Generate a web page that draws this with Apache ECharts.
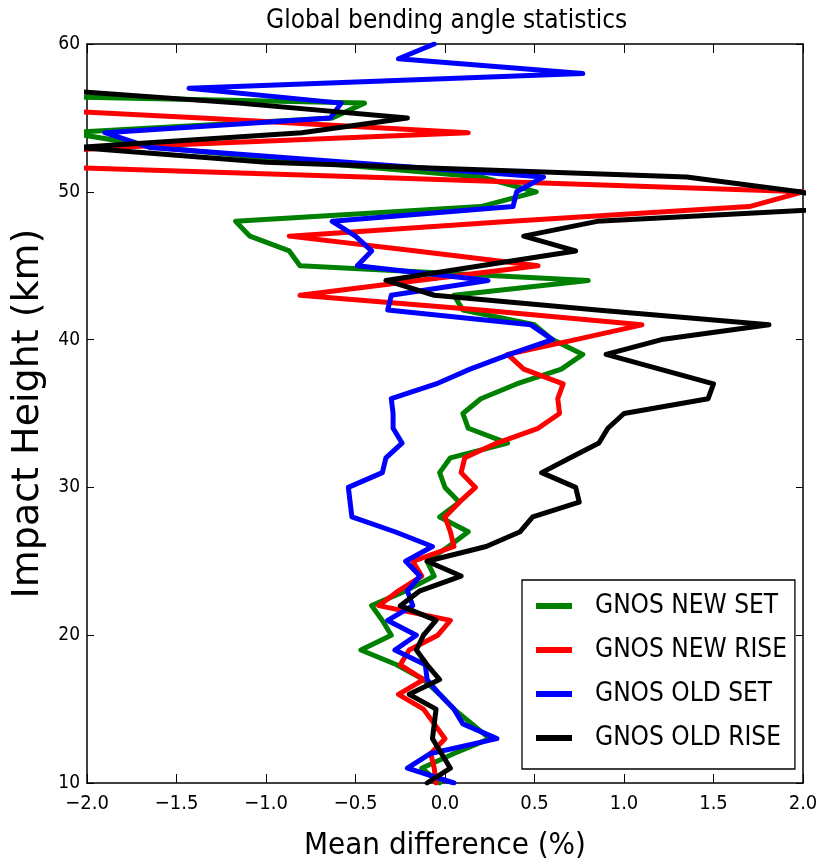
<!DOCTYPE html>
<html><head><meta charset="utf-8">
<script src="https://cdn.jsdelivr.net/npm/echarts@6/dist/echarts.min.js"></script>
<style>html,body{margin:0;padding:0;background:#fff}#c{width:832px;height:866px}</style>
</head><body><div id="c"></div>
<script>
// Impact heights (km)
const heights = [10,11,12,13,14,15,16,17,18,19,20,21,22,23,24,25,26,27,28,29,30,31,32,33,34,35,36,37,38,39,40,41,42,43,44,45,46,47,48,49,50,51,52,53,54,55,56,57,58,59,60];
// Mean difference (%) per height
const gnosNewSet = [-0.03,-0.13,0.05,0.25,0.15,0.05,-0.03,-0.12,-0.27,-0.47,-0.3,-0.35,-0.41,-0.22,-0.06,-0.1,0.02,0.13,-0.03,0.08,0.0,-0.03,0.03,0.35,0.13,0.1,0.2,0.4,0.65,0.77,0.6,0.5,0.1,0.05,0.8,-0.81,-0.87,-1.09,-1.17,0.2,0.51,0.2,-0.75,-1.6,-2.1,-0.63,-0.45,-4.4,-3.5,-3.0,-3.0];
const gnosNewRise = [-0.05,-0.06,-0.08,0.0,-0.06,-0.12,-0.26,-0.12,-0.25,-0.2,-0.04,0.03,-0.37,-0.26,-0.13,-0.18,0.05,0.03,0.0,0.08,0.17,0.09,0.11,0.29,0.52,0.64,0.63,0.66,0.44,0.35,0.73,1.1,0.2,-0.81,-0.15,0.52,-0.16,-0.87,0.37,1.7,2.0,-0.45,-3.0,-1.87,0.13,-1.36,-3.0,-3.0,-3.0,-3.0,-3.0];
const gnosOldSet = [0.05,-0.21,-0.08,0.29,0.1,0.05,-0.03,-0.1,-0.11,-0.28,-0.16,-0.32,-0.18,-0.21,-0.14,-0.22,-0.07,-0.28,-0.52,-0.53,-0.54,-0.35,-0.33,-0.24,-0.29,-0.29,-0.3,-0.05,0.14,0.36,0.6,0.48,-0.32,-0.3,0.24,-0.49,-0.41,-0.5,-0.63,0.38,0.4,0.55,-0.55,-1.65,-1.9,-0.64,-0.58,-1.43,0.77,-0.26,-0.06];
const gnosOldRise = [-0.1,0.03,-0.02,-0.07,-0.06,-0.05,-0.2,-0.03,-0.1,-0.16,-0.12,-0.05,-0.25,-0.14,0.09,-0.1,0.23,0.42,0.49,0.75,0.73,0.54,0.7,0.86,0.91,1.0,1.47,1.5,1.2,0.9,1.21,1.81,0.85,-0.06,-0.33,0.2,0.73,0.44,0.85,2.4,1.98,1.35,-1.0,-2.05,-0.8,-0.21,-1.15,-2.3,-2.5,-2.5,-2.5];

const seriesNames = ['GNOS NEW SET','GNOS NEW RISE','GNOS OLD SET','GNOS OLD RISE'];
const seriesColors = ['#008000','#ff0000','#0000ff','#000000'];
const seriesValues = [gnosNewSet, gnosNewRise, gnosOldSet, gnosOldRise];

const NARROW = "'DejaVu Sans Condensed','Liberation Sans Narrow','DejaVu Sans',sans-serif";
const chart = echarts.init(document.getElementById('c'));
const fmtX = v => (v < 0 ? '\u2212' : '') + Math.abs(v).toFixed(1);
const axisLine = {onZero:false, lineStyle:{color:'#000', width:1.5}};

chart.setOption({
  animation:false,
  backgroundColor:'#fff',
  title:{text:'Global bending angle statistics', left:266, top:8, padding:0,
    textStyle:{fontSize:26, fontWeight:'normal', fontFamily:NARROW, color:'#000'}},
  grid:{left:87, top:44, right:29, bottom:83, containLabel:false},
  xAxis:[
    {type:'value', min:-2, max:2, interval:0.5, position:'bottom',
     name:'Mean difference (%)', nameLocation:'middle', nameGap:47,
     nameTextStyle:{fontSize:31, fontFamily:NARROW, color:'#000'},
     axisLine:axisLine, axisTick:{inside:true, length:9, lineStyle:{color:'#000', width:1}},
     axisLabel:{margin:11, fontSize:20, fontFamily:NARROW, color:'#000', formatter:fmtX},
     splitLine:{show:false}},
    {type:'value', min:-2, max:2, interval:0.5, position:'top',
     axisLine:axisLine, axisTick:{inside:true, length:9, lineStyle:{color:'#000', width:1}},
     axisLabel:{show:false}, splitLine:{show:false}}
  ],
  yAxis:[
    {type:'value', min:10, max:60, interval:10, position:'left',
     name:'Impact Height (km)', nameLocation:'middle', nameGap:32, nameRotate:90,
     nameTextStyle:{fontSize:38, fontFamily:'DejaVu Sans', color:'#000'},
     axisLine:axisLine, axisTick:{inside:true, length:7, lineStyle:{color:'#000', width:1}},
     axisLabel:{margin:7, fontSize:19, fontFamily:NARROW, color:'#000'},
     splitLine:{show:false}},
    {type:'value', min:10, max:60, interval:10, position:'right',
     axisLine:axisLine, axisTick:{inside:true, length:7, lineStyle:{color:'#000', width:1}},
     axisLabel:{show:false}, splitLine:{show:false}}
  ],
  legend:{orient:'vertical', left:522, top:580, padding:[13,8,18,14], itemGap:18,
    itemWidth:36, itemHeight:6, icon:'rect', borderColor:'#000', borderWidth:1.3,
    backgroundColor:'#fff',
    textStyle:{fontSize:26, fontFamily:NARROW, color:'#000', padding:[0,0,0,18]},
    data:seriesNames},
  series: seriesNames.map((n,i)=>({
    name:n, type:'line', xAxisIndex:0, yAxisIndex:0, showSymbol:false, symbol:'none',
    clip:true, color:seriesColors[i],
    lineStyle:{color:seriesColors[i], width:5, cap:'round', join:'round'},
    data: heights.map((h,k)=>[seriesValues[i][k], h])
  }))
});
</script></body></html>
